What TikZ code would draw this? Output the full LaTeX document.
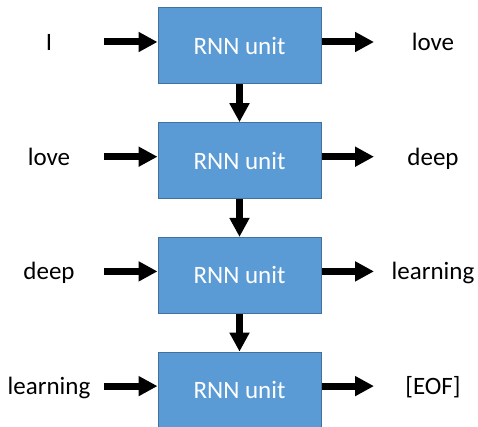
\documentclass[tikz,border=0pt]{standalone}
\usepackage{fontspec}
\setmainfont{Carlito}
\usetikzlibrary{arrows.meta}
\definecolor{boxfill}{HTML}{5B9BD5}
\definecolor{boxline}{HTML}{41719C}
\begin{document}
\begin{tikzpicture}[x=1pt,y=-1pt,
  unit/.style={draw=boxline, line width=1pt, fill=boxfill, minimum width=163pt,
    minimum height=76pt, inner sep=0pt, text=white, font=\fontsize{25}{30}\selectfont},
  word/.style={font=\fontsize{25}{30}\selectfont, inner sep=0pt, anchor=base},
  flow/.style={line width=7pt, -{Triangle[length=19pt,width=19pt]}}]
\useasboundingbox (0,0) rectangle (478,427);
% boxes
\node[unit] (b1) at (239.5,46) {RNN unit};
\node[unit] (b2) at (239.5,160.7) {RNN unit};
\node[unit] (b3) at (239.5,275.4) {RNN unit};
\node[unit] (b4) at (239.5,390.1) {RNN unit};
% input words
\node[word] (i1) at (49,50.5) {I};
\node[word] (i2) at (49,165.2) {love};
\node[word] (i3) at (49,279.9) {deep};
\node[word] (i4) at (49,394.6) {learning};
% output words
\node[word] (o1) at (433,50.5) {love};
\node[word] (o2) at (433,165.2) {deep};
\node[word] (o3) at (433,279.9) {learning};
\node[word] (o4) at (433,394.6) {[EOF]};
% arrow ends
\coordinate (s1) at (104,42);
\coordinate (s2) at (104,156.7);
\coordinate (s3) at (104,271.4);
\coordinate (s4) at (104,386.1);
\coordinate (e1) at (374,42);
\coordinate (e2) at (374,156.7);
\coordinate (e3) at (374,271.4);
\coordinate (e4) at (374,386.1);
\foreach \k in {1,2,3,4}{
  \draw[flow] (s\k) -- (b\k.west |- s\k);
  \draw[flow] (b\k.east |- e\k) -- (e\k);
}
\draw[flow] (b1.south) -- (b2.north);
\draw[flow] (b2.south) -- (b3.north);
\draw[flow] (b3.south) -- (b4.north);
\end{tikzpicture}
\end{document}
